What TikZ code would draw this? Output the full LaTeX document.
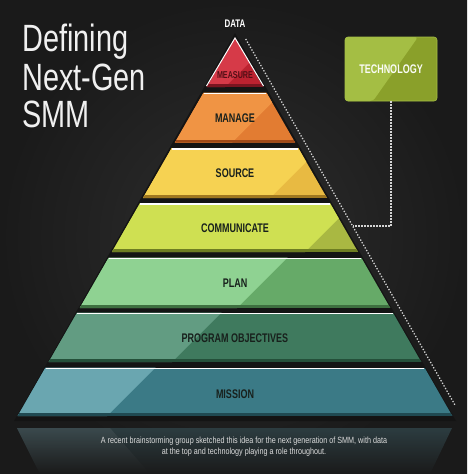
\documentclass[tikz,border=0pt]{standalone}
\usepackage{fontspec}
\setmainfont{Liberation Sans}
\newfontfamily\titlefont[FakeStretch=0.76]{Liberation Sans}
\newfontfamily\bandfont[FakeStretch=0.72]{Liberation Sans}
\newfontfamily\notefont[FakeStretch=0.8]{Liberation Sans}
\usetikzlibrary{calc, positioning, shadings}

\definecolor{bgin}{HTML}{2E2E2E}
\definecolor{bgout}{HTML}{1A1A1A}
\definecolor{measureL}{HTML}{D63A48}
\definecolor{measureD}{HTML}{BC2230}
\definecolor{measureE}{HTML}{7A1520}
\definecolor{manageL}{HTML}{F09444}
\definecolor{manageD}{HTML}{E27C32}
\definecolor{manageE}{HTML}{A04A18}
\definecolor{sourceL}{HTML}{F6D252}
\definecolor{sourceD}{HTML}{E8BA42}
\definecolor{sourceE}{HTML}{A07820}
\definecolor{commL}{HTML}{CFE052}
\definecolor{commD}{HTML}{A9B842}
\definecolor{commE}{HTML}{6E7E22}
\definecolor{planL}{HTML}{8FD292}
\definecolor{planD}{HTML}{66AA68}
\definecolor{planE}{HTML}{3E7040}
\definecolor{progL}{HTML}{629C82}
\definecolor{progD}{HTML}{3F7A5E}
\definecolor{progE}{HTML}{24503A}
\definecolor{missL}{HTML}{6AA6B0}
\definecolor{missD}{HTML}{3B7A86}
\definecolor{missE}{HTML}{204A52}
\definecolor{techL}{HTML}{A4BE44}
\definecolor{techD}{HTML}{8AA02A}
\definecolor{labeltext}{HTML}{18201C}
\definecolor{dotgray}{HTML}{D4D4D4}
\definecolor{reflTop}{HTML}{2C3C40}

\tikzset {
    headline/.style = {
        font = \titlefont\fontsize{38}{38}\selectfont,
        text = white!94!black,
        text height = 27pt,
        text depth = 0pt,
        inner sep = 0pt,
        anchor = base west
    },
    bandlabel/.style = {
        font = \bandfont\bfseries\fontsize{12.5}{12.5}\selectfont,
        text = labeltext,
        inner sep = 0pt
    },
    datalabel/.style = {
        font = \bandfont\bfseries\fontsize{11}{11}\selectfont,
        text = white,
        inner sep = 0pt
    },
    techbox/.style = {
        draw = techL,
        line width = 0.6pt,
        fill = techD,
        rounded corners = 3pt,
        minimum width = 92pt,
        minimum height = 64pt,
        font = \bandfont\bfseries\fontsize{12.5}{12.5}\selectfont,
        text = white!95!techL,
        path picture = {
            \fill[techL] (path picture bounding box.south west) -- ++(28,0)
                -- ++(45,-64) -- (path picture bounding box.north west) -- cycle;
        }
    },
    dotline/.style = {
        draw = dotgray,
        line width = 1.3pt,
        dash pattern = on 1.3pt off 1.7pt
    },
    highlight/.style = {
        draw = white,
        line width = 1.6pt
    },
    note/.style = {
        font = \notefont\fontsize{9}{11.3}\selectfont,
        text = white!86!black,
        align = center,
        inner sep = 0pt
    }
}

\begin{document}
\begin{tikzpicture}[x=1pt, y=-1pt]
    \useasboundingbox (0,0) rectangle (467,474);

    % Background and shadow behind the pyramid
    \shade[inner color=bgin, outer color=bgout] (0,0) rectangle (467,474);
    \fill[black!92] (235,33) -- (456,421) -- (14,421) -- cycle;

    % Reflection under the base
    \shade[top color=reflTop, bottom color=bgout] (17,428) -- (452,428) -- (430,474) -- (40,474) -- cycle;
    \shade[top color=reflTop!80!white, bottom color=bgout, opacity=0.35] (17,428) -- (110,428) -- (150,474) -- (40,474) -- cycle;

    % Title
    \node [headline] (title1) at (22,51)  {Defining};
    \node [headline] (title2) at (22,90)  {Next-Gen};
    \node [headline] (title3) at (22,127) {SMM};

    % Bands : top / bottom / light / dark / edge / gloss x / name / label y / label
    \foreach \tp/\bt/\lc/\dc/\ec/\gx/\nm/\ly/\lbl in {
        38/87/measureL/measureD/measureE/225/measure/75/{},
        92.5/142.5/manageL/manageD/manageE/232/manage/118/MANAGE,
        148/198/sourceL/sourceD/sourceE/270/source/173/SOURCE,
        203/252/commL/commD/commE/305/communicate/228/COMMUNICATE,
        257.5/308/planL/planD/planE/237/plan/283/PLAN,
        312.5/362/progL/progD/progE/172/program/338/PROGRAM OBJECTIVES,
        367.5/416/missL/missD/missE/107/mission/394/MISSION}
    {
        \pgfmathsetmacro\hwtop{0.575*(\tp-38)}
        \pgfmathsetmacro\hwbot{0.575*(\bt-38)}
        \begin{scope}
            \clip (235-\hwtop,\tp) -- (235+\hwtop,\tp) -- (235+\hwbot,\bt) -- (235-\hwbot,\bt) -- cycle;
            \fill[\dc] (0,\tp) rectangle (467,\bt);
            \fill[\lc] (0,\bt) -- (\gx,\bt) -- (\gx+\bt-\tp,\tp) -- (0,\tp) -- cycle;
            \fill[\ec] (0,\bt-3) rectangle (467,\bt);
        \end{scope}
        \path[highlight] (235-\hwtop,\tp+0.8) -- (235+\hwtop,\tp+0.8);
        \node [bandlabel] (\nm) at (235,\ly) {\lbl};
    }
    \path[draw=white, line width=1pt] (206.5,86) -- (235,38) -- (263.5,86);
    \node [bandlabel, text=measureE!70!black, font=\bandfont\bfseries\fontsize{10}{10}\selectfont] (measurelbl) at (measure) {MEASURE};

    % Data on top, technology on the side
    \node [datalabel] (data) at (235,24) {DATA};
    \node [techbox] (tech) at (391,69) {TECHNOLOGY};

    \coordinate (dtop) at (245.7,39);
    \coordinate (dbot) at (455,405);
    \coordinate (tjoin) at ($(dtop)!0.511!(dbot)$);

    \path[dotline] (dtop) -- (dbot);
    \path[dotline] (tech.south) |- (tjoin);

    % Caption
    \node [note] (caption) at (244,447) {A recent brainstorming group sketched this idea for the next generation of SMM, with data\\at the top and technology playing a role throughout.};
\end{tikzpicture}
\end{document}
